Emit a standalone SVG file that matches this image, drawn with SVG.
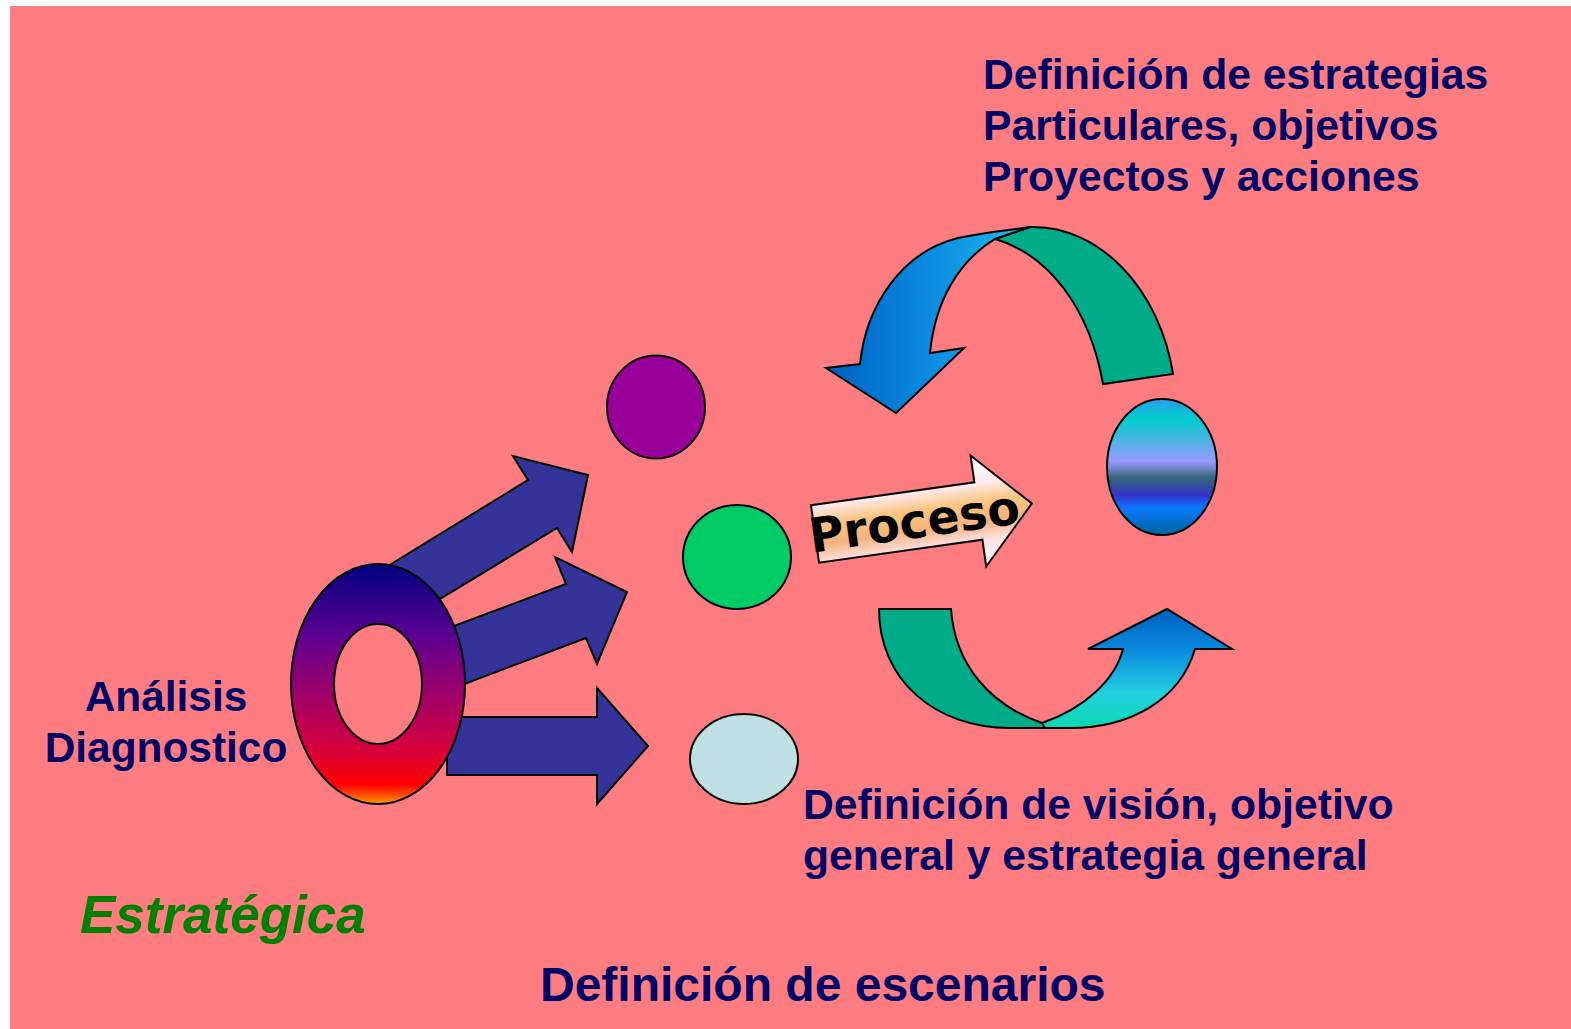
<svg xmlns="http://www.w3.org/2000/svg" width="1571" height="1029" viewBox="0 0 1571 1029">
<style>
.sh{stroke:#000;stroke-width:2;stroke-linejoin:miter}
.arr{fill:#333399;stroke:#000;stroke-width:2}
.t{font-family:"Liberation Sans",Arial,sans-serif;font-weight:bold;fill:#000066;font-size:42.7px}
</style>
<defs>
<linearGradient id="gDonut" x1="0" y1="0" x2="0" y2="1">
<stop offset="0" stop-color="#000080"/>
<stop offset="0.3" stop-color="#5C0090"/>
<stop offset="0.55" stop-color="#A00068"/>
<stop offset="0.78" stop-color="#D8003A"/>
<stop offset="0.92" stop-color="#FF0000"/>
<stop offset="1" stop-color="#FF9900"/>
</linearGradient>
<linearGradient id="gOrb" x1="0" y1="0" x2="0" y2="1">
<stop offset="0" stop-color="#2AA0EC"/>
<stop offset="0.15" stop-color="#00CCCC"/>
<stop offset="0.46" stop-color="#9999FF"/>
<stop offset="0.58" stop-color="#336677"/>
<stop offset="0.71" stop-color="#3333CC"/>
<stop offset="0.8" stop-color="#0A77FF"/>
<stop offset="1" stop-color="#006699"/>
</linearGradient>
<linearGradient id="gProc" x1="0" y1="0" x2="0" y2="1">
<stop offset="0" stop-color="#FFFFFF"/>
<stop offset="0.26" stop-color="#FFE8EC"/>
<stop offset="0.42" stop-color="#FAC67E"/>
<stop offset="0.6" stop-color="#F6B27C"/>
<stop offset="0.76" stop-color="#FFE0E0"/>
<stop offset="1" stop-color="#FFFFFF"/>
</linearGradient>
<linearGradient id="gBlueTop" x1="0" y1="0" x2="1" y2="0">
<stop offset="0" stop-color="#0060C2"/>
<stop offset="0.5" stop-color="#0A8ADF"/>
<stop offset="1" stop-color="#22BCEC"/>
</linearGradient>
<linearGradient id="gBlueBot" x1="0" y1="0" x2="0" y2="1">
<stop offset="0" stop-color="#005FBF"/>
<stop offset="0.35" stop-color="#0A8BDE"/>
<stop offset="0.7" stop-color="#22CFE0"/>
<stop offset="1" stop-color="#0AD9B0"/>
</linearGradient>
</defs>
<rect x="10" y="6" width="1561" height="1023" fill="#FF7C80"/>

<g id="connectors">
<polygon class="arr" points="370,577 528,480 513,456 588,475 572,552 557,528 420,611"/>
<polygon class="arr" points="430,635 566,584 555,557 627,592 597,664 586,638 430,697"/>
<polygon class="arr" points="447,717 597,717 597,688 648,746 597,804 597,775 447,775"/>
<g id="proceso" transform="translate(815,534) rotate(-8)">
<polygon class="sh" fill="url(#gProc)" points="0,-29 165,-29 165,-56 219,0 165,56 165,29 0,29"/>
<text x="-6" y="18" font-family="'DejaVu Sans',Verdana,sans-serif" font-weight="bold" font-size="47.5" fill="#000">Proceso</text>
</g>
<g id="cycle-top">
<path class="sh" fill="#00AB87" d="M995,239 C1050,255 1090,310 1103,384 L1173,374 C1160,290 1100,225 1030,227 Z"/>
<path class="sh" fill="url(#gBlueTop)" d="M1030,227 C1000,231 975,234 958,238 C902,252 866,305 860,364 L826,368 L896,413 L964,348 L930,353 C935,300 960,260 995,239 Z"/>
</g>
<g id="cycle-bottom">
<path class="sh" fill="#00AB87" d="M879,609 L951,609 C955,665 990,705 1042,723 L1065,728 L1010,728 C935,728 879,680 879,609 Z"/>
<path class="sh" fill="url(#gBlueBot)" d="M1042,723 C1085,708 1115,680 1123,649 L1088,649 L1167,609 L1232,649 L1195,649 C1180,700 1130,728 1070,728 L1045,728 Z"/>
</g>
</g>

<g id="diagnostico">
<path class="sh" fill="url(#gDonut)" fill-rule="evenodd" d="M291,684 A87,120 0 1 0 465,684 A87,120 0 1 0 291,684 Z M334,684 A44,60 0 1 1 422,684 A44,60 0 1 1 334,684 Z"/>
</g>
<g id="node-purple"><ellipse class="sh" cx="656" cy="407" rx="49" ry="51.5" fill="#990099"/></g>
<g id="node-green"><ellipse class="sh" cx="737" cy="557" rx="54" ry="52" fill="#00CC66"/></g>
<g id="node-light"><ellipse class="sh" cx="744" cy="759" rx="54" ry="45" fill="#BEE0E3"/></g>
<g id="node-orb"><ellipse class="sh" cx="1162" cy="467" rx="55" ry="68" fill="url(#gOrb)"/></g>

<g id="labels">
<text class="t" x="983" y="89">Definición de estrategias</text>
<text class="t" x="983" y="140">Particulares, objetivos</text>
<text class="t" x="983" y="191">Proyectos y acciones</text>
<text class="t" x="166" y="711" text-anchor="middle" style="font-size:42.4px">Análisis</text>
<text class="t" x="166" y="762" text-anchor="middle" style="font-size:42.4px">Diagnostico</text>
<text class="t" x="803" y="819">Definición de visión, objetivo</text>
<text class="t" x="803" y="870">general y estrategia general</text>
<text x="80" y="933" font-family="'Liberation Sans',Arial,sans-serif" font-weight="bold" font-style="italic" font-size="53" fill="#008000">Estratégica</text>
<text class="t" x="540" y="1001" style="font-size:48px">Definición de escenarios</text>
</g>
</svg>
